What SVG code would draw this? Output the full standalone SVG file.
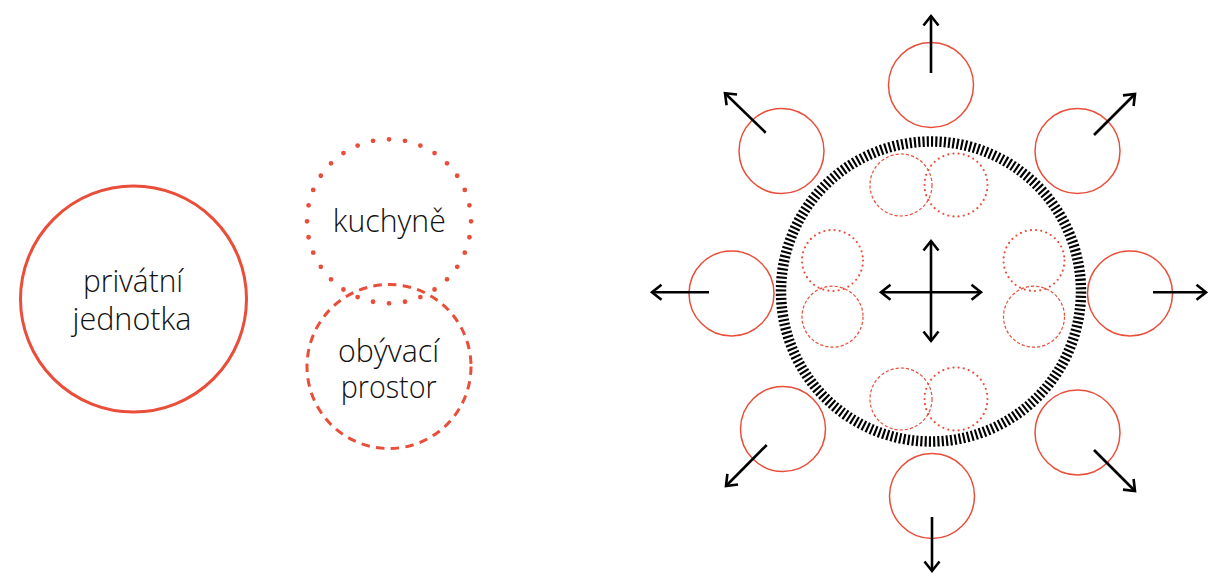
<svg xmlns="http://www.w3.org/2000/svg" width="1208" height="574" viewBox="0 0 1208 574">
<style>
.lbl{font-family:"Open Sans","Noto Sans","Liberation Sans",sans-serif;font-weight:300;font-size:31px;fill:#111;text-anchor:middle}
.red{fill:none;stroke:#e94e3a}
.sm{fill:none;stroke:#e94e3a;stroke-width:1.5}
.idot{fill:none;stroke:#e94e3a;stroke-width:2.2;stroke-linecap:round;stroke-dasharray:0 5.2}
.idash{fill:none;stroke:#e94e3a;stroke-width:1.2;stroke-dasharray:3.2 2}
.arr{fill:none;stroke:#000;stroke-width:2.6;marker-end:url(#ah)}
</style>
<defs>
<marker id="ah" markerUnits="userSpaceOnUse" markerWidth="24" markerHeight="24" viewBox="-12 -12 24 24" refX="0" refY="0" orient="auto">
<path d="M-9.5,-7.5 L0,0 L-9.5,7.5" fill="none" stroke="#000" stroke-width="2.6" stroke-linejoin="miter"/>
</marker>
</defs>
<rect width="1208" height="574" fill="#fff"/>
<g id="privatni-jednotka">
<circle cx="133.5" cy="299" r="113" class="red" stroke-width="3"/>
<text class="lbl" x="133" y="292" textLength="100" lengthAdjust="spacingAndGlyphs">privátní</text>
<text class="lbl" x="132" y="330" textLength="119" lengthAdjust="spacingAndGlyphs">jednotka</text>
</g>
<g id="obyvaci-prostor">
<circle cx="389" cy="366.5" r="82" class="red" stroke-width="3" stroke-dasharray="8.5 6.3"/>
<text class="lbl" x="388.5" y="362" textLength="101" lengthAdjust="spacingAndGlyphs">obývací</text>
<text class="lbl" x="388.7" y="398" textLength="96" lengthAdjust="spacingAndGlyphs">prostor</text>
</g>
<g id="kuchyne">
<circle cx="389" cy="221.3" r="82" class="red" stroke-width="4.8" stroke-linecap="round" stroke-dasharray="0 1" pathLength="32"/>
<text class="lbl" x="389.3" y="232" textLength="113" lengthAdjust="spacingAndGlyphs">kuchyně</text>
</g>
<g id="ring">
<circle cx="931" cy="291.5" r="150" fill="none" stroke="#000" stroke-width="10.5" pathLength="220" stroke-dasharray="0.5 0.5"/>
</g>
<g id="outer-units">
<circle cx="931" cy="85" r="42.5" class="sm"/>
<circle cx="932" cy="496" r="42.5" class="sm"/>
<circle cx="731.5" cy="293.5" r="42.5" class="sm"/>
<circle cx="1130" cy="293.5" r="42.5" class="sm"/>
<circle cx="781.5" cy="151" r="42.5" class="sm"/>
<circle cx="1077.5" cy="151" r="42.5" class="sm"/>
<circle cx="783" cy="429" r="42.5" class="sm"/>
<circle cx="1077.5" cy="432.5" r="42.5" class="sm"/>
</g>
<g id="inner-top">
<circle cx="901" cy="185" r="31" class="idash"/>
<circle cx="956" cy="185" r="31.5" class="idot"/>
</g>
<g id="inner-bottom">
<circle cx="901" cy="399" r="31" class="idash"/>
<circle cx="956" cy="399" r="31.5" class="idot"/>
</g>
<g id="inner-left">
<circle cx="832.5" cy="260.5" r="30.5" class="idot"/>
<circle cx="832.5" cy="316.7" r="30.5" class="idash"/>
</g>
<g id="inner-right">
<circle cx="1034" cy="260.5" r="30.5" class="idot"/>
<circle cx="1034" cy="316.7" r="30.5" class="idash"/>
</g>
<g id="connectors">
<line class="arr" x1="931" y1="73" x2="931" y2="16"/>
<line class="arr" x1="932" y1="517" x2="932" y2="571"/>
<line class="arr" x1="709" y1="292.3" x2="652" y2="292.3"/>
<line class="arr" x1="1153" y1="292.3" x2="1206" y2="292.3"/>
<line class="arr" x1="765.7" y1="132.7" x2="725" y2="93.3"/>
<line class="arr" x1="766.7" y1="445" x2="726" y2="486"/>
<line class="arr" x1="1094" y1="135" x2="1135" y2="94"/>
<line class="arr" x1="1094" y1="450" x2="1135" y2="491"/>
<line class="arr" x1="931" y1="292.3" x2="881" y2="292.3"/>
<line class="arr" x1="931" y1="292.3" x2="981" y2="292.3"/>
<line class="arr" x1="931" y1="292.3" x2="931" y2="241"/>
<line class="arr" x1="931" y1="292.3" x2="931" y2="341"/>
</g>
</svg>
